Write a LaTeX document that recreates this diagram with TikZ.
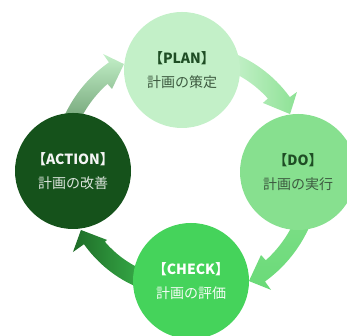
\documentclass[tikz,border=0pt]{standalone}
\usepackage{fontspec}
\newfontfamily\jp{Noto Sans CJK JP}
\definecolor{plancol}{HTML}{C3F0C8}
\definecolor{docol}{HTML}{87E08F}
\definecolor{checkcol}{HTML}{45D35B}
\definecolor{actioncol}{HTML}{15521B}
\definecolor{darktext}{HTML}{1E4D24}
\definecolor{graytext}{HTML}{3D5A40}

\begin{document}
\begin{tikzpicture}[x=1pt, y=1pt, phase/.style={circle, minimum size=116pt, inner sep=0pt, align=center, font=\jp\fontsize{14}{24.5}\selectfont}]
\useasboundingbox (0,0) rectangle (347,336);
\coordinate (hub) at (186,164);
\begin{scope}[shift={(hub)}]
\shade[left color=plancol!80!white, right color=docol!95!white] (72:128) arc[start angle=72, end angle=35.8, radius=128] -- (35.8:136.8) -- (29.1:119.1) -- (41.9:103.4) -- (41.9:110) arc[start angle=41.9, end angle=72, radius=110] -- cycle;
\shade[top color=docol, bottom color=docol!55!checkcol] (0:135) arc[start angle=0, end angle=-54.2, radius=135] -- (-54.2:145.4) -- (-60:125.9) -- (-47.9:111.9) -- (-47.9:119) arc[start angle=-47.9, end angle=0, radius=119] -- cycle;
\shade[right color=checkcol, left color=actioncol!80!checkcol] (-90:125) arc[start angle=-90, end angle=-144.7, radius=125] -- (-144.7:138.5) -- (-151.1:120) -- (-139.3:104.2) -- (-139.3:107) arc[start angle=-139.3, end angle=-90, radius=107] -- cycle;
\shade[bottom color=actioncol!85!white, top color=plancol] (180:134) arc[start angle=180, end angle=125.1, radius=134] -- (125.1:144.3) -- (119.9:124.5) -- (131.7:111.2) -- (131.7:118) arc[start angle=131.7, end angle=180, radius=118] -- cycle;
\end{scope}
\node[phase, fill=plancol, text=darktext] (plan) at (182,266) {\bfseries 【PLAN】\\{\color{graytext}計画の策定}};
\node[phase, fill=docol, text=darktext] (do) at (298,164) {\bfseries 【DO】\\{\color{graytext}計画の実行}};
\node[phase, fill=checkcol, text=white] (check) at (191,55) {\bfseries 【CHECK】\\{\color{white!94!checkcol}計画の評価}};
\node[phase, fill=actioncol, text=white!96!black] (action) at (73,165) {\bfseries 【ACTION】\\{\color{white!85!actioncol}計画の改善}};
\end{tikzpicture}
\end{document}
